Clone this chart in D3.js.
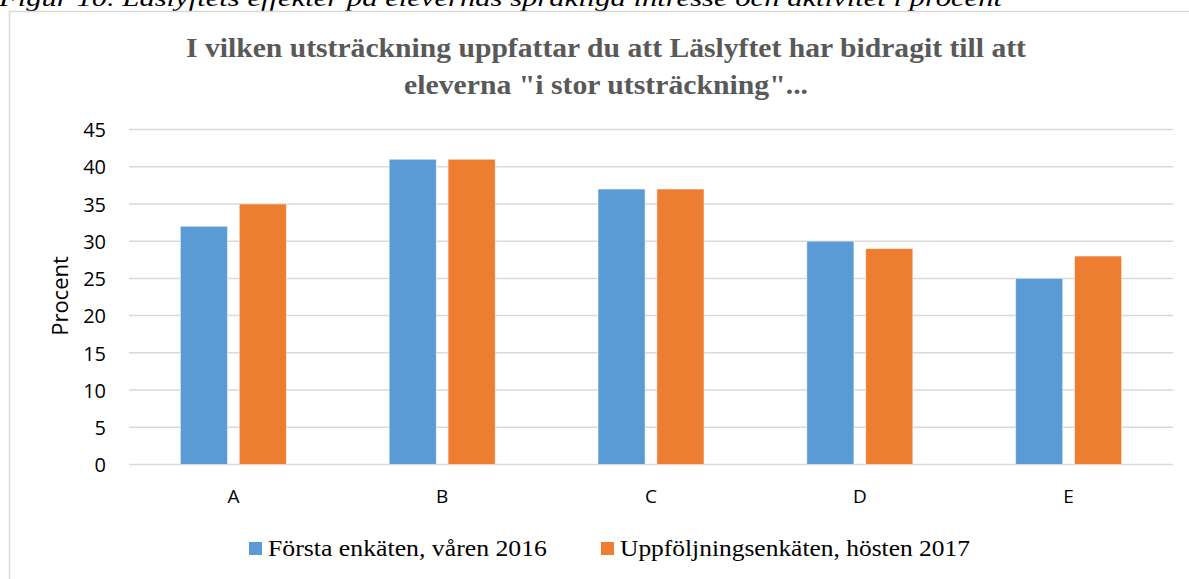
<!DOCTYPE html>
<html>
<head>
<meta charset="utf-8">
<script src="https://cdn.jsdelivr.net/npm/d3@7"></script>
<style>
  html, body { margin: 0; padding: 0; background: #fff; overflow: hidden; }
  svg { display: block; }
</style>
</head>
<body>
<svg id="chart" width="1189" height="579"></svg>
<script>
const caption = "Figur 10. Läslyftets effekter på elevernas språkliga intresse och aktivitet i procent";
const titleLines = ["I vilken utsträckning uppfattar du att Läslyftet har bidragit till att", "eleverna \"i stor utsträckning\"..."];
const categories = ["A", "B", "C", "D", "E"];
const seriesNames = ["Första enkäten, våren 2016", "Uppföljningsenkäten, hösten 2017"];
const firstSurvey = [32, 41, 37, 30, 25];
const followUp = [35, 41, 37, 29, 28];
const yTicks = [0, 5, 10, 15, 20, 25, 30, 35, 40, 45];
const yLabel = "Procent";
const colors = ["#5b9bd5", "#ed7d31"];

const seriesValues = [firstSurvey, followUp];
const data = categories.map((c, i) => ({ cat: c, values: seriesNames.map((s, j) => ({ s, v: seriesValues[j][i] })) }));

const svg = d3.select("#chart");
const sans = "'Open Sans', 'Noto Sans', sans-serif";
const serif = "'Liberation Serif', 'DejaVu Serif', serif";

// caption (cut off at top, as in the reference)
svg.append("text").attr("x", -1).attr("y", 6)
  .attr("font-family", serif).attr("font-style", "italic").attr("font-size", 23)
  .attr("textLength", 1003).attr("lengthAdjust", "spacingAndGlyphs")
  .attr("fill", "#000").text(caption);

// chart frame
svg.append("rect").attr("x", 9.5).attr("y", 11.5).attr("width", 1300).attr("height", 700)
  .attr("fill", "none").attr("stroke", "#d9d9d9").attr("stroke-width", 1.5);

const x = d3.scaleBand().domain(categories).range([129, 1173]).paddingInner(0).paddingOuter(0);
const xs = d3.scaleBand().domain(seriesNames).range([-53, 53]).paddingInner(0.2);
const y = d3.scaleLinear().domain([0, 45]).range([464.5, 129.5]);

// gridlines
svg.append("g").selectAll("line").data(yTicks).join("line")
  .attr("x1", 129).attr("x2", 1173)
  .attr("y1", d => y(d)).attr("y2", d => y(d))
  .attr("stroke", "#d9d9d9").attr("stroke-width", 1.5);

// y axis labels
const yAxis = d3.axisLeft(y).tickValues(yTicks).tickSize(0).tickPadding(0);
const yg = svg.append("g").attr("transform", "translate(106,0)").call(yAxis);
yg.attr("font-size", null).attr("font-family", null);
yg.select(".domain").remove();
yg.selectAll("text").style("font-family", sans).style("font-size", "20px").attr("fill", "#000").attr("dy", "0.36em");

// bars
const groups = svg.append("g").selectAll("g").data(data).join("g")
  .attr("transform", d => `translate(${x(d.cat) + x.bandwidth() / 2},0)`);
groups.selectAll("rect").data(d => d.values).join("rect")
  .attr("x", d => xs(d.s)).attr("width", xs.bandwidth())
  .attr("y", d => y(d.v)).attr("height", d => y(0) - y(d.v))
  .attr("fill", (d, i) => colors[i])
  .attr("stroke", "#ffffff").attr("stroke-opacity", 0.5).attr("stroke-width", 1);

// x axis labels
const xAxis = d3.axisBottom(x).tickSize(0).tickPadding(0);
const xg = svg.append("g").attr("transform", "translate(0,503)").call(xAxis);
xg.attr("font-size", null).attr("font-family", null);
xg.select(".domain").remove();
xg.selectAll("text").style("font-family", sans).style("font-size", "19px").attr("fill", "#000").attr("dy", 0);

// y label
svg.append("text").attr("transform", "translate(68,296) rotate(-90)")
  .attr("text-anchor", "middle").style("font-family", sans).style("font-size", "22px")
  .attr("fill", "#000").text(yLabel);

// title
const titleWidths = [840, 404];
svg.append("g").selectAll("text").data(titleLines).join("text")
  .attr("x", 606).attr("y", (d, i) => 57 + i * 37)
  .attr("text-anchor", "middle").attr("font-family", serif).attr("font-weight", "bold")
  .attr("font-size", 28).attr("fill", "#595959")
  .attr("textLength", (d, i) => titleWidths[i]).attr("lengthAdjust", "spacingAndGlyphs")
  .text(d => d);

// legend
const legendX = [249, 601];
const legendW = [279, 350];
const lg = svg.append("g").selectAll("g").data(seriesNames).join("g")
  .attr("transform", (d, i) => `translate(${legendX[i]},0)`);
lg.append("rect").attr("x", 0).attr("y", 542).attr("width", 13).attr("height", 13)
  .attr("fill", (d, i) => colors[i]);
lg.append("text").attr("x", 19).attr("y", 556)
  .attr("font-family", serif).attr("font-size", 23).attr("fill", "#000")
  .attr("textLength", (d, i) => legendW[i]).attr("lengthAdjust", "spacingAndGlyphs")
  .text(d => d);
</script>
</body>
</html>
